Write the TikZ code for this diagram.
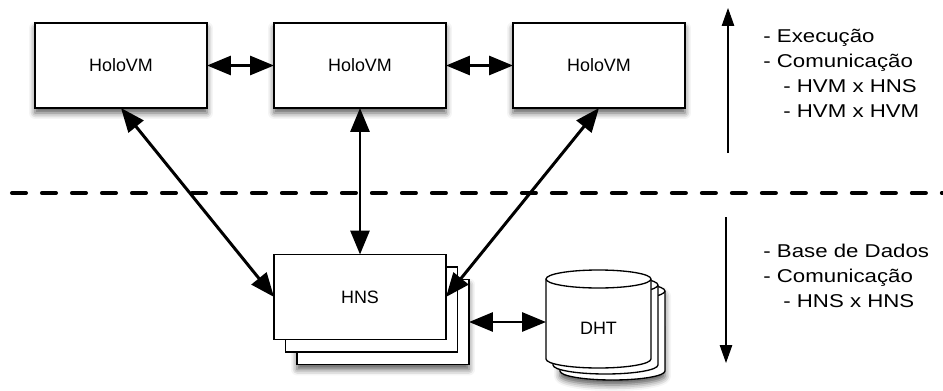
\documentclass[tikz,border=0pt]{standalone}
\usepackage{fontspec}
\setmainfont{Liberation Sans}
\newfontfamily\notesfont[FakeStretch=1.2]{Liberation Sans}
\usetikzlibrary{arrows.meta,shadows.blur}

\begin{document}
\begin{tikzpicture}[x=0.02cm,y=0.02cm,
    box/.style={draw,line width=0.75pt,fill=white,minimum width=3.44cm,
        minimum height=1.7cm,outer sep=0pt,font=\fontsize{10.2}{12}\selectfont},
    shadowed/.style={blur shadow={shadow xshift=0cm,shadow yshift=-0.1cm,
        shadow blur radius=0.12cm,shadow opacity=65}},
    link/.style={line width=1.7pt,{Triangle[length=0.48cm,width=0.38cm,fill=black]}-{Triangle[length=0.48cm,width=0.38cm,fill=black]}},
    layer/.style={line width=0.6pt,-{Triangle[length=0.36cm,width=0.25cm,fill=black]}},
    notes/.style={inner sep=0pt,align=left,font=\notesfont\fontsize{10.55}{14.2}\selectfont}]
    \useasboundingbox (0,0) rectangle (943,390);

    % separation between the two layers
    \draw[line width=2.3pt,line cap=round,dash pattern=on 0.28cm off 0.32cm] (12,197) -- (943,197);

    % execution layer
    \node[box,shadowed] (h1) at (121,324.5) {HoloVM};
    \node[box,shadowed] (h2) at (360,324.5) {HoloVM};
    \node[box,shadowed] (h3) at (599,324.5) {HoloVM};

    % database layer
    \node[box,shadowed] (hnsc) at (383,68) {};
    \node[box] (hnsb) at (371.5,80.5) {};
    \node[box] (hns) at (360,93) {HNS};

    \foreach \dx/\dy in {14/-12,7/-6,0/0} {
        \ifnum\dx=14
            \path[shadowed,fill=white,shift={(\dx,\dy)}] (546,111) -- (546,31) arc (180:360:1.05cm and 0.18cm)
                -- (651,111) arc (0:180:1.05cm and 0.18cm) -- cycle;
        \fi
        \filldraw[line width=0.75pt,fill=white,shift={(\dx,\dy)}] (546,111) -- (546,31) arc (180:360:1.05cm and 0.18cm)
            -- (651,111) arc (0:180:1.05cm and 0.18cm) -- cycle;
        \draw[line width=0.75pt,shift={(\dx,\dy)}] (546,111) arc (180:360:1.05cm and 0.18cm);
    }
    \node[minimum width=2.1cm,minimum height=1.5cm,outer sep=0pt,font=\fontsize{10.2}{12}\selectfont] (dht) at (598.5,62) {DHT};

    % connections
    \draw[link] (h1) -- (h2);
    \draw[link] (h2) -- (h3);
    \draw[link] (h1.south) -- (hns.west);
    \draw[link] (h2.south) -- (hns.north);
    \draw[link] (h3.south) -- (hns.east);
    \draw[link] (hnsc.east) -- (hnsc.east -| dht.west);

    % right side notes
    \draw[layer] (728,237) -- (728,382);
    \draw[layer] (726,173) -- (726,27);
    \node[notes,anchor=base west] (up) at (763,273) {- Execução\\- Comunicação\\\hspace*{0.4cm}- HVM x HNS\\\hspace*{0.4cm}- HVM x HVM};
    \node[notes,anchor=base west] (down) at (763,83) {- Base de Dados\\- Comunicação\\\hspace*{0.4cm}- HNS x HNS};
\end{tikzpicture}
\end{document}
